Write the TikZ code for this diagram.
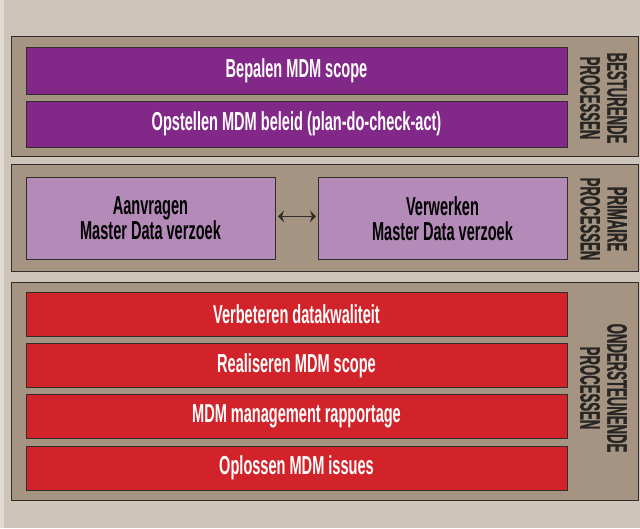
\documentclass[tikz,border=0pt]{standalone}
\usepackage{fontspec}
\usepackage{tikz}
\usetikzlibrary{arrows.meta,positioning}
\newfontfamily\boxfont[FakeStretch=0.56]{Liberation Sans}
\newfontfamily\sidefont[FakeStretch=0.47,FakeBold=1]{Liberation Sans}
\definecolor{bgbeige}{RGB}{206,197,186}
\definecolor{bgedge}{RGB}{224,218,210}
\definecolor{paneltaupe}{RGB}{166,148,130}
\definecolor{lijn}{RGB}{50,45,42}
\definecolor{mdmpaars}{RGB}{130,40,136}
\definecolor{mdmlila}{RGB}{180,138,184}
\definecolor{mdmrood}{RGB}{210,35,42}
\definecolor{labeltxt}{RGB}{40,38,36}
\tikzset{
  paneel/.style={draw=lijn, fill=paneltaupe, line width=1pt, inner sep=0pt},
  blok/.style={draw=lijn, line width=1pt, inner sep=0pt, align=center,
               font=\boxfont\bfseries\fontsize{26}{25}\selectfont},
  paarsblok/.style={blok, fill=mdmpaars, text=white, minimum width=541pt, minimum height=47pt},
  lilablok/.style={blok, fill=mdmlila, text=black, minimum width=249pt, minimum height=82pt},
  roodblok/.style={blok, fill=mdmrood, text=white, minimum width=541pt, minimum height=44pt},
  zijlabel/.style={rotate=-90, align=center, text=labeltxt, inner sep=0pt,
                   font=\sidefont\bfseries\fontsize{28}{27}\selectfont},
  pijl/.style={{Stealth[length=6pt,width=12pt]}-{Stealth[length=6pt,width=12pt]}, lijn, line width=1pt},
}
\begin{document}
\begin{tikzpicture}[x=1pt,y=-1pt]
  \fill[bgbeige] (0,0) rectangle (640,528);
  \fill[bgedge] (0,0) rectangle (4,528);
  \useasboundingbox (0,0) rectangle (640,528);

  % besturende processen
  \node[paneel, minimum width=627pt, minimum height=119.5pt] (pbest) at (324.5,96.25) {};
  \node[paarsblok] (scope) at (296.5,71) {Bepalen MDM scope};
  \node[paarsblok, minimum height=46pt] (beleid) at (296.5,124) {Opstellen MDM beleid (plan-do-check-act)};
  \node[zijlabel] (lbest) at (603.5,98) {BESTURENDE\\PROCESSEN};

  % primaire processen
  \node[paneel, minimum width=627pt, minimum height=107pt] (pprim) at (324.5,217.5) {};
  \node[lilablok] (aanvr) at (150.5,218.3) {Aanvragen\\Master Data verzoek};
  \node[lilablok] (verw) at (442.5,218.3) {Verwerken\\Master Data verzoek};
  \node[zijlabel] (lprim) at (603.5,219) {PRIMAIRE\\PROCESSEN};
  \draw[pijl, shorten <=2.5pt, shorten >=1.5pt] ([yshift=2pt]aanvr.east) -- ([yshift=2pt]verw.west);

  % ondersteunende processen
  \node[paneel, minimum width=627pt, minimum height=218pt] (pond) at (324.5,391) {};
  \node[roodblok] (kwal) at (296.5,314) {Verbeteren datakwaliteit};
  \node[roodblok] (real) at (296.5,365.3) {Realiseren MDM scope};
  \node[roodblok] (rapp) at (296.5,416.7) {MDM management rapportage};
  \node[roodblok] (issue) at (296.5,468) {Oplossen MDM issues};
  \node[zijlabel] (lond) at (603.5,388) {ONDERSTEUNENDE\\PROCESSEN};
\end{tikzpicture}
\end{document}
